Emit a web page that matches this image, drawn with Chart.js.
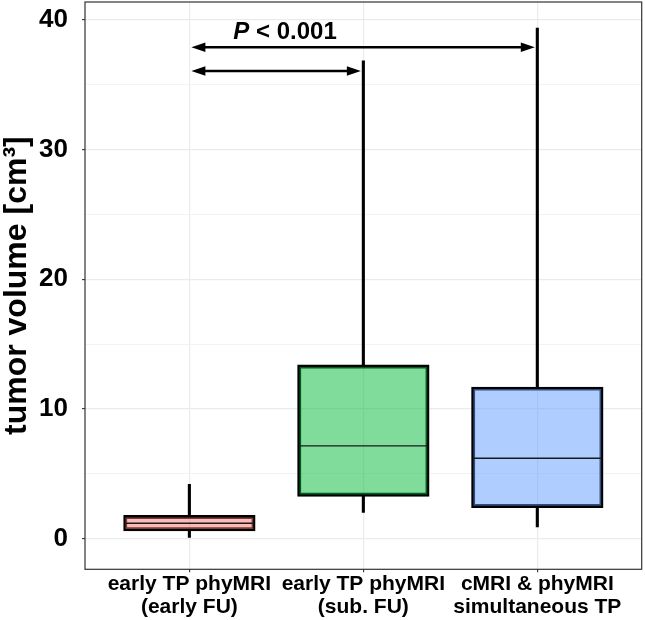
<!DOCTYPE html>
<html>
<head>
<meta charset="utf-8">
<script src="https://cdn.jsdelivr.net/npm/chart.js@4"></script>
<style>
  body { margin: 0; background: #fff; }
  canvas { display: block; }
</style>
</head>
<body>
<canvas id="myChart" width="645" height="620"></canvas>
<script>
// data
const categories = [
  ["early TP phyMRI", "(early FU)"],
  ["early TP phyMRI", "(sub. FU)"],
  ["cMRI & phyMRI", "simultaneous TP"],
];
const catPos = [1, 2, 3];
const whiskerLow = [0.0, 1.99, 0.86];
const q1 = [0.62, 3.28, 2.41];
const median = [1.17, 7.14, 6.19];
const q3 = [1.74, 13.35, 11.65];
const whiskerHigh = [4.2, 36.87, 39.4];
const boxColors = ["rgba(248,118,109,0.5)", "rgba(0,186,56,0.5)", "rgba(97,156,255,0.5)"];

const yTicks = [0, 5, 10, 15, 20, 25, 30, 35, 40];

// significance arrows
const compFrom = [1, 1];
const compTo = [3, 2];
const compY = [37.9, 36.07];
const pLabelItalic = "P";
const pLabelRest = " < 0.001";
const pLabelX = 1.55;
const pLabelY = 38.55;

const FONT = "'Liberation Sans', Arial, sans-serif";
Chart.defaults.font.family = FONT;
Chart.defaults.color = "#000";

const boxExtras = {
  id: "boxExtras",
  afterDatasetsDraw(chart) {
    const ctx = chart.ctx;
    const xs = chart.scales.x;
    const ys = chart.scales.y;
    const boxes = chart.getDatasetMeta(0).data;
    ctx.save();

    // medians
    ctx.strokeStyle = "#1a1a1a";
    ctx.lineWidth = 1.4;
    boxes.forEach((bar, i) => {
      const py = ys.getPixelForValue(median[i]);
      ctx.beginPath();
      ctx.moveTo(bar.x - bar.width / 2 + 1, py);
      ctx.lineTo(bar.x + bar.width / 2 - 1, py);
      ctx.stroke();
    });

    // arrows
    ctx.strokeStyle = "#000";
    ctx.fillStyle = "#000";
    ctx.lineWidth = 2.5;
    const head = 14;
    const half = 4.8;
    for (let i = 0; i < compFrom.length; i++) {
      const x1 = xs.getPixelForValue(compFrom[i]) + 2;
      const x2 = xs.getPixelForValue(compTo[i]) - 2.5;
      const py = ys.getPixelForValue(compY[i]);
      ctx.beginPath();
      ctx.moveTo(x1 + head - 1, py);
      ctx.lineTo(x2 - head + 1, py);
      ctx.stroke();
      ctx.beginPath();
      ctx.moveTo(x1, py);
      ctx.lineTo(x1 + head, py - half);
      ctx.lineTo(x1 + head, py + half);
      ctx.closePath();
      ctx.fill();
      ctx.beginPath();
      ctx.moveTo(x2, py);
      ctx.lineTo(x2 - head, py - half);
      ctx.lineTo(x2 - head, py + half);
      ctx.closePath();
      ctx.fill();
    }

    // P value label
    ctx.textBaseline = "alphabetic";
    ctx.textAlign = "left";
    ctx.font = "italic bold 24px " + FONT;
    const wP = ctx.measureText(pLabelItalic).width;
    ctx.font = "bold 24px " + FONT;
    const wRest = ctx.measureText(pLabelRest).width;
    let sx = xs.getPixelForValue(pLabelX) - (wP + wRest) / 2;
    const by = ys.getPixelForValue(pLabelY);
    ctx.font = "italic bold 24px " + FONT;
    ctx.fillText(pLabelItalic, sx, by);
    ctx.font = "bold 24px " + FONT;
    ctx.fillText(pLabelRest, sx + wP, by);

    // panel border
    const a = chart.chartArea;
    ctx.strokeStyle = "#333";
    ctx.lineWidth = 1.2;
    ctx.strokeRect(a.left, a.top, a.right - a.left, a.bottom - a.top);
    ctx.restore();
  },
};

const ctx = document.getElementById("myChart").getContext("2d");
const myChart = new Chart(ctx, {
  type: "bar",
  data: {
    datasets: [
      {
        label: "box",
        data: catPos.map((x, i) => ({ x: x, y: [q1[i], q3[i]] })),
        backgroundColor: boxColors,
        borderColor: "#000",
        borderWidth: 2.3,
        inflateAmount: 0.8,
        borderSkipped: false,
        grouped: false,
        categoryPercentage: 1,
        barPercentage: 0.751,
      },
      {
        label: "upper whisker",
        data: catPos.map((x, i) => ({ x: x, y: [q3[i], whiskerHigh[i]] })),
        backgroundColor: "#000",
        borderWidth: 0,
        inflateAmount: 0,
        grouped: false,
        maxBarThickness: 3.1,
      },
      {
        label: "lower whisker",
        data: catPos.map((x, i) => ({ x: x, y: [whiskerLow[i], q1[i]] })),
        backgroundColor: "#000",
        borderWidth: 0,
        inflateAmount: 0,
        grouped: false,
        maxBarThickness: 3.1,
      },
    ],
  },
  options: {
    responsive: false,
    animation: false,
    devicePixelRatio: 1,
    layout: { padding: { top: 2, right: 3.3, left: 0, bottom: 0 } },
    plugins: {
      legend: { display: false },
      tooltip: { enabled: false },
    },
    scales: {
      x: {
        type: "linear",
        min: 0.4,
        max: 3.6,
        offset: false,
        afterBuildTicks: (scale) => {
          scale.ticks = catPos.map((v) => ({ value: v }));
        },
        afterFit: (scale) => {
          scale.height = 50.7;
          scale.paddingLeft = 0;
          scale.paddingRight = 0;
        },
        border: { display: false },
        grid: {
          offset: false,
          color: "#EBEBEB",
          lineWidth: 1.2,
          tickColor: "#333",
          tickLength: 3,
          tickWidth: 1.1,
        },
        ticks: {
          autoSkip: false,
          maxRotation: 0,
          padding: 0,
          font: { size: 21, weight: "bold", lineHeight: 1.1 },
          callback: (v) => categories[catPos.indexOf(v)],
        },
      },
      y: {
        min: -2.38,
        max: 41.39,
        afterBuildTicks: (scale) => {
          scale.ticks = yTicks.map((v) => ({ value: v }));
        },
        afterFit: (scale) => {
          scale.width = 85;
          scale.paddingTop = 0;
          scale.paddingBottom = 0;
        },
        border: { display: false },
        grid: {
          color: (c) => (c.tick && c.tick.value % 10 === 0 ? "#EBEBEB" : "#F2F2F2"),
          lineWidth: (c) => (c.tick && c.tick.value % 10 === 0 ? 1.2 : 0.9),
          tickColor: (c) => (c.tick && c.tick.value % 10 === 0 ? "#333" : "rgba(0,0,0,0)"),
          tickLength: 3,
          tickWidth: 1.1,
        },
        ticks: {
          autoSkip: false,
          padding: 14,
          font: { size: 26, weight: "bold" },
          callback: (v) => (v % 10 === 0 ? String(v) : ""),
        },
        title: {
          display: true,
          text: "tumor volume [cm³]",
          padding: { top: 0, bottom: 0 },
          font: { size: 32, weight: "bold", lineHeight: 1.1 },
        },
      },
    },
  },
  plugins: [boxExtras],
});
</script>
</body>
</html>
